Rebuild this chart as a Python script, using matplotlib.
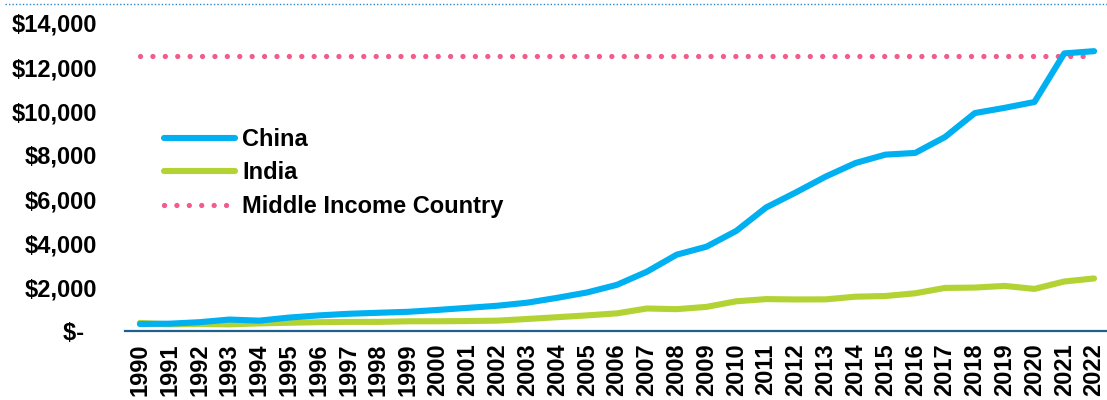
import matplotlib
matplotlib.use("Agg")
import matplotlib.pyplot as plt
from matplotlib.lines import Line2D

years = list(range(1990, 2023))
china = [318, 333, 400, 520, 470, 610, 709, 782, 829, 873, 959, 1053, 1149, 1289,
         1509, 1753, 2099, 2694, 3468, 3832, 4550, 5614, 6301, 7020, 7636, 8016,
         8094, 8817, 9905, 10144, 10409, 12618, 12720]
india = [368, 303, 317, 301, 346, 374, 400, 415, 413, 442, 443, 452, 471, 547,
         628, 710, 802, 1023, 993, 1096, 1350, 1450, 1434, 1438, 1560, 1590,
         1714, 1958, 1974, 2050, 1913, 2250, 2389]
middle_income = [12500] * len(years)
ytick_vals = [0, 2000, 4000, 6000, 8000, 10000, 12000, 14000]
ytick_labels = ["$-  ", "$2,000", "$4,000", "$6,000", "$8,000", "$10,000", "$12,000", "$14,000"]

plt.rcParams['font.family'] = ['Liberation Sans', 'DejaVu Sans']
plt.rcParams['font.weight'] = 'bold'

W, H = 1107, 400
fig = plt.figure(figsize=(W / 100, H / 100), dpi=100)
ax = fig.add_axes([125 / W, (H - 331) / H, 984 / W, (331 - 23) / H])

x = list(range(len(years)))
ax.plot(x, china, color="#00B0F0", lw=4.4, solid_capstyle="round", solid_joinstyle="round", label="China", zorder=3)
ax.plot(x, india, color="#B3D335", lw=4.4, solid_capstyle="round", solid_joinstyle="round", label="India", zorder=2)
ax.plot(x, middle_income, color="#F25C8A", lw=3.8, linestyle=(0, (0.01, 2.34)),
        dash_capstyle="round", label="Middle Income Country", zorder=1)

ax.set_xlim(-0.5, len(years) - 0.5)
ax.set_ylim(0, 14000)
ax.set_xticks(x)
ax.set_xticklabels([str(y) for y in years], rotation=90, fontsize=17, fontweight="bold")
ax.set_yticks(ytick_vals)
ax.set_yticklabels(ytick_labels, fontsize=17, fontweight="bold")
ax.tick_params(axis="x", length=0, pad=9)
ax.tick_params(axis="y", length=0, pad=20)
for s in ["top", "right", "left"]:
    ax.spines[s].set_visible(False)
ax.spines["bottom"].set_color("#1F5F8B")
ax.spines["bottom"].set_linewidth(1.6)

leg = ax.legend(loc="upper left", bbox_to_anchor=(164 / W, (H - 128) / H),
                bbox_transform=fig.transFigure, frameon=False, fontsize=17,
                handlelength=3.0, handletextpad=0.3, labelspacing=0.44,
                borderpad=0, borderaxespad=0)
for t in leg.get_texts():
    t.set_fontweight("bold")

fig.add_artist(Line2D([5 / W, 1.0], [(H - 4) / H] * 2, transform=fig.transFigure,
                      color="#2A86C8", lw=1.0, linestyle=(0, (1, 1.5))))

fig.savefig("out.png", dpi=100)
